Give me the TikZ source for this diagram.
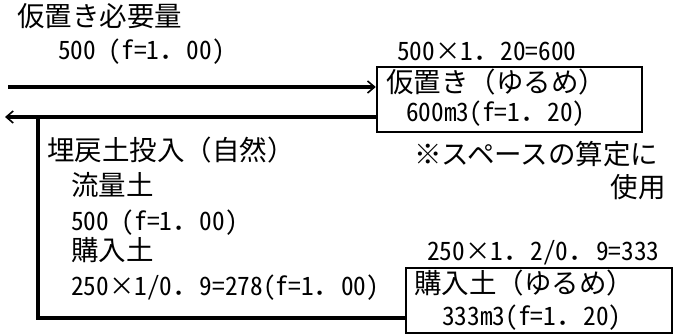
\documentclass[tikz,border=0pt]{standalone}
\usepackage{fontspec}
\setmainfont{Noto Sans CJK JP}
\newfontfamily\hw{Noto Sans CJK JP}[RawFeature=+hwid,Scale=0.92]
\newcommand\fdot{{\normalfont ．}}
\usetikzlibrary{arrows.meta}
\begin{document}
\begin{tikzpicture}[x=1pt,y=-1pt,
  txt/.style={anchor=west,inner sep=0pt,text height=20pt,text depth=4pt,font=\fontsize{27.5}{31}\selectfont},
  rtxt/.style={txt,anchor=east},
  box/.style={draw,line width=2.5pt,inner sep=0pt},
  flow/.style={line width=3.5pt},
  tip/.style={-{Straight Barb[length=7pt,width=12pt,line width=1.6pt]}}]
\useasboundingbox (0,0) rectangle (686,334);
% boxes
\node[box,minimum width=265pt,minimum height=65pt] (b1) at (509.5,99.5) {};
\node[box,minimum width=266pt,minimum height=65pt] (b2) at (539,300.5) {};
% texts
\node[txt] (t1) at (17,19) {仮置き必要量};
\node[txt] (t2) at (58,52) {\hw 500 (f=1\fdot 00)};
\node[txt] (t3) at (397,53) {\hw 500×1\fdot 20=600};
\node[txt] (b1a) at (386,85) {仮置き（ゆるめ）};
\node[txt] (b1b) at (406,114) {\hw 600m3(f=1\fdot 20)};
\node[txt] (t4) at (47,153) {埋戻土投入（自然）};
\node[txt] (t5) at (71,188) {流量土};
\node[txt] (t6) at (71,222) {\hw 500 (f=1\fdot 00)};
\node[txt] (t7) at (71,253) {購入土};
\node[txt] (t8) at (71,287) {\hw 250×1/0\fdot 9=278(f=1\fdot 00)};
\node[txt] (t9) at (414,157) {※スペースの算定に};
\node[rtxt] (t10) at (666,190) {使用};
\node[txt] (t11) at (427,252) {\hw 250×1\fdot 2/0\fdot 9=333};
\node[txt] (b2a) at (414,285) {購入土（ゆるめ）};
\node[txt] (b2b) at (442,317) {\hw 333m3(f=1\fdot 20)};
% connectors
\coordinate (s1) at (8,87);
\coordinate (e2) at (5,117);
\coordinate (c1) at (38,117);
\coordinate (c2) at (38,318);
\draw[flow,tip] (s1) -- (s1 -| b1.west);
\draw[flow,tip] (e2 -| b1.west) -- (e2);
\draw[flow] (c1) -- (c2) -- (c2 -| b2.west);
\end{tikzpicture}
\end{document}
